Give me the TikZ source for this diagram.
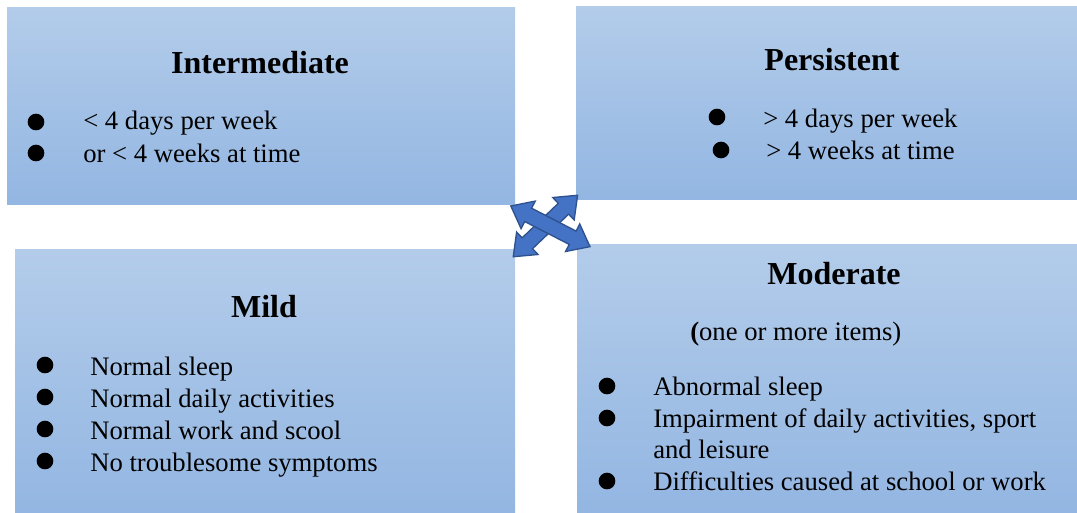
\documentclass[tikz,border=0pt]{standalone}
\usepackage{fontspec}
\setmainfont{Liberation Serif}
\definecolor{boxtop}{HTML}{B3CCEA}
\definecolor{boxbottom}{HTML}{93B6E2}
\definecolor{arrowblue}{HTML}{4472C4}
\definecolor{arrowline}{HTML}{2F528F}
\tikzset{
    box/.style={rectangle,inner sep=0pt,top color=boxtop,bottom color=boxbottom},
    title/.style={anchor=base,inner sep=0pt,font=\fontsize{24}{28}\selectfont\bfseries},
    item/.style={anchor=base west,inner sep=0pt,font=\fontsize{20}{24}\selectfont},
    dot/.style={circle,fill=black,inner sep=0pt,minimum size=12.5pt},
    arrowshape/.style={fill=arrowblue,draw=arrowline,line width=1pt,line join=miter},
    dblarrow/.pic={
        \draw[arrowshape] (-44.5,0) -- (-25,15.5) -- (-25,7.5) -- (25,7.5) -- (25,15.5)
            -- (44.5,0) -- (25,-15.5) -- (25,-7.5) -- (-25,-7.5) -- (-25,-15.5) -- cycle;
    }
}

\begin{document}
\begin{tikzpicture}[x=0.75pt,y=-0.75pt]
\useasboundingbox (0,0) rectangle (1077,512);

\node[box, minimum width=381pt, minimum height=147.75pt] (inter) at (261,105.5) {};
\node[box, minimum width=375.75pt, minimum height=144.75pt] (pers) at (826.5,102.5) {};
\node[box, minimum width=375pt, minimum height=197.25pt] (mild) at (265,380.5) {};
\node[box, minimum width=375pt, minimum height=201pt] (mod) at (827,378) {};

\pic (a2) [rotate=43.7] at (545.4,226) {dblarrow};
\pic (a1) [rotate=-27.2] at (550.4,226.3) {dblarrow};

\node[title] (inter-t) at (260,73) {Intermediate};
\node[dot] (inter-d1) at (36,122) {};
\node[dot] (inter-d2) at (36,153) {};
\node[item] (inter-1) at (83,129) {< 4 days per week};
\node[item] (inter-2) at (83,162) {or < 4 weeks at time};

\node[title] (pers-t) at (832,70) {Persistent};
\node[dot] (pers-d1) at (717,117) {};
\node[dot] (pers-d2) at (721,150) {};
\node[item] (pers-1) at (763,127) {> 4 days per week};
\node[item] (pers-2) at (766,159) {> 4 weeks at time};

\node[title] (mild-t) at (264,317) {Mild};
\node[dot] (mild-d1) at (45,365) {};
\node[dot] (mild-d2) at (45,397) {};
\node[dot] (mild-d3) at (45,429) {};
\node[dot] (mild-d4) at (45,461) {};
\node[item] (mild-1) at (90,375) {Normal sleep};
\node[item] (mild-2) at (90,407) {Normal daily activities};
\node[item] (mild-3) at (90,439) {Normal work and scool};
\node[item] (mild-4) at (90,471) {No troublesome symptoms};

\node[title] (mod-t) at (834,284) {Moderate};
\node[item] (mod-s) at (690,340) {\textbf{(}one or more items)};
\node[dot] (mod-d1) at (607,386) {};
\node[dot] (mod-d2) at (607,418) {};
\node[dot] (mod-d3) at (607,481) {};
\node[item] (mod-1) at (653,395) {Abnormal sleep};
\node[item] (mod-2) at (653,427) {Impairment of daily activities, sport};
\node[item] (mod-2b) at (653,458) {and leisure};
\node[item] (mod-3) at (653,490) {Difficulties caused at school or work};

\end{tikzpicture}
\end{document}
